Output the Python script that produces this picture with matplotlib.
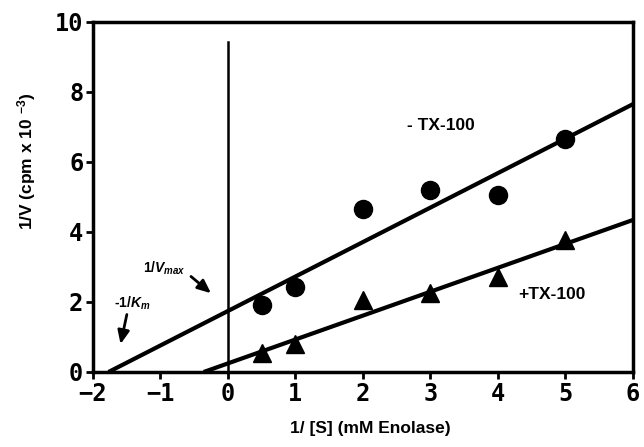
import numpy as np
import matplotlib
matplotlib.use("Agg")
import matplotlib.pyplot as plt

plt.rcParams['mathtext.fontset'] = 'custom'
plt.rcParams['mathtext.rm'] = 'Liberation Sans:bold'
plt.rcParams['mathtext.it'] = 'Liberation Sans:bold:italic'
plt.rcParams['mathtext.bf'] = 'Liberation Sans:bold'

# data
s_inv = [0.5, 1, 2, 3, 4, 5]
v_minus_tx = [1.92, 2.44, 4.65, 5.2, 5.05, 6.65]
v_plus_tx = [0.55, 0.8, 2.05, 2.27, 2.72, 3.77]

# fitted lines: (x-intercept, slope)
fit_minus = (-1.77, 0.985)
fit_plus = (-0.36, 0.683)

x_ticks = [-2, -1, 0, 1, 2, 3, 4, 5, 6]
y_ticks = [0, 2, 4, 6, 8, 10]

fig = plt.figure(figsize=(6.44, 4.47), dpi=100)
ax = fig.add_axes([0.1444, 0.1678, 0.8385, 0.783])

for x0, k in (fit_minus, fit_plus):
    xs = np.array([x0, 6])
    ax.plot(xs, k * (xs - x0), color='black', lw=3, solid_capstyle='butt', zorder=2)

ax.plot(s_inv, v_minus_tx, 'o', color='black', ms=13, zorder=3)
ax.plot(s_inv, v_plus_tx, '^', color='black', ms=13, zorder=3)

ax.plot([0, 0], [0, 9.43], color='black', lw=1.8, zorder=1)

lbl = dict(fontweight='bold', family='Liberation Sans', ha='center', va='center')
ax.text(3.15, 7.05, '- TX-100', fontsize=12.5, **lbl)
ax.text(4.8, 2.2, '+TX-100', fontsize=12.5, **lbl)

ax.text(-1.42, 1.95, r'-1/$\mathit{K_m}$', fontsize=10, **lbl)
ax.annotate('', xy=(-1.6, 0.72), xytext=(-1.49, 1.72),
            arrowprops=dict(arrowstyle='-|>,head_length=0.8,head_width=0.35', color='black', lw=2))
ax.text(-0.95, 2.95, r'1/$\mathit{V_{max}}$', fontsize=10, **lbl)
ax.annotate('', xy=(-0.22, 2.2), xytext=(-0.58, 2.78),
            arrowprops=dict(arrowstyle='-|>,head_length=0.8,head_width=0.35', color='black', lw=2))

ax.set_xlim(-2, 6)
ax.set_ylim(0, 10)
ax.set_xticks(x_ticks)
ax.set_yticks(y_ticks)
for sp in ax.spines.values():
    sp.set_linewidth(2.5)
ax.tick_params(direction='out', length=5, width=2, labelsize=17, pad=2)
for lab in ax.get_xticklabels() + ax.get_yticklabels():
    lab.set_family('DejaVu Sans Mono')
    lab.set_fontweight('bold')

fig.text(0.575, 0.042, '1/ [S] (mM Enolase)', fontsize=12.5, fontweight='bold',
         family='Liberation Sans', ha='center', va='center')
fig.text(0.042, 0.64, r'1/V (cpm x 10 $^{-3}$)', fontsize=12.5, fontweight='bold',
         family='Liberation Sans', ha='center', va='center', rotation=90)

fig.savefig('out.png', dpi=100)
